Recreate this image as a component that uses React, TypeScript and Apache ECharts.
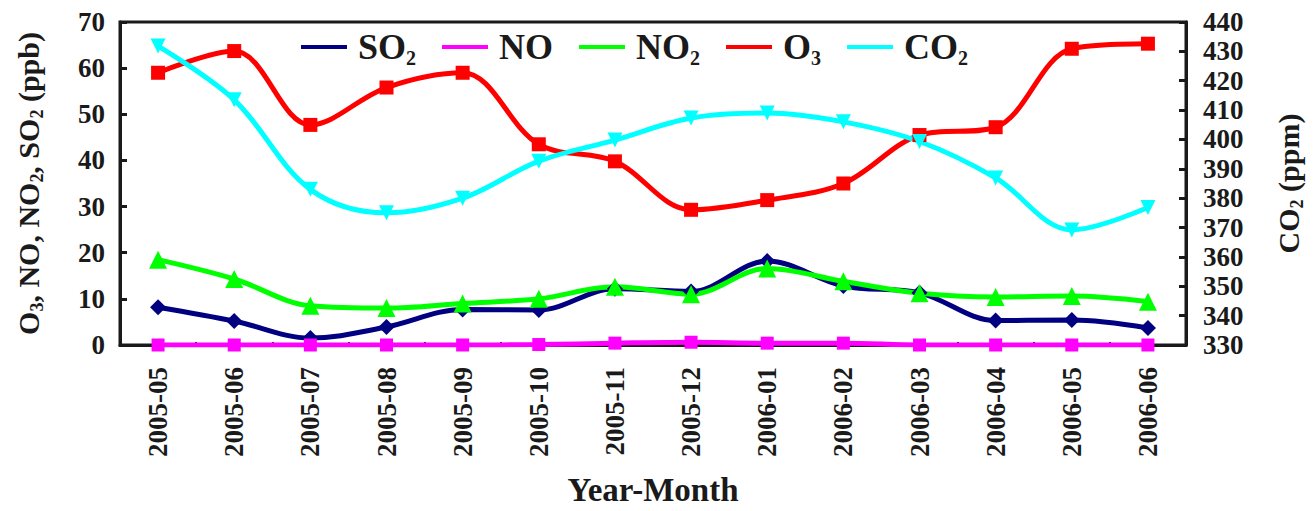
import React, { useEffect, useRef } from "react";
import * as echarts from "echarts";

const months = [
  "2005-05", "2005-06", "2005-07", "2005-08", "2005-09", "2005-10", "2005-11",
  "2005-12", "2006-01", "2006-02", "2006-03", "2006-04", "2006-05", "2006-06",
];
const so2 = [8.2, 5.2, 1.5, 3.9, 7.7, 7.6, 12.2, 11.6, 18.2, 12.8, 11.3, 5.3, 5.4, 3.7];
const no = [0, 0, 0, 0, 0, 0.1, 0.4, 0.6, 0.4, 0.4, 0, 0, 0, 0];
const no2 = [18.5, 14.3, 8.5, 8.0, 9.0, 10.0, 12.6, 11.0, 16.6, 13.8, 11.2, 10.4, 10.6, 9.4];
const o3 = [59, 63.7, 47.7, 55.8, 59, 43.5, 39.8, 29.3, 31.4, 35, 45.5, 47.2, 64.2, 65.3];
const co2 = [431.8, 413.5, 383, 375, 380, 392.6, 399.8, 407.3, 409, 406, 399.3, 386.9, 369.2, 376.8];

const leftTicks = { min: 0, max: 70, interval: 10 };
const rightTicks = { min: 330, max: 440, interval: 10 };

const FONT = '"Liberation Serif", "Times New Roman", serif';
const INK = "#1a1a1a";

const richFor = (big: number, small: number, lh: number) => ({
  b: { fontFamily: FONT, fontWeight: "bold", fontSize: big, lineHeight: lh, color: INK },
  s: {
    fontFamily: FONT,
    fontWeight: "bold",
    fontSize: small,
    lineHeight: small,
    verticalAlign: "bottom",
    color: INK,
  },
});

const legendLabels: Record<string, string> = {
  SO2: "{b|SO}{s|2}",
  NO: "{b|NO}",
  NO2: "{b|NO}{s|2}",
  O3: "{b|O}{s|3}",
  CO2: "{b|CO}{s|2}",
};

export default function App() {
  const ref = useRef<HTMLDivElement>(null);
  useEffect(() => {
    if (!ref.current) return;
    const chart = echarts.init(ref.current, null, { renderer: "svg" });
    const mk = (
      name: string,
      data: number[],
      color: string,
      symbol: string,
      size: number,
      yAxisIndex = 0,
      rotate = 0
    ) => ({
      name,
      type: "line",
      data,
      yAxisIndex,
      smooth: 0.35,
      symbol,
      symbolSize: size,
      symbolRotate: rotate,
      showSymbol: true,
      lineStyle: { color, width: 5 },
      itemStyle: { color },
      z: 3,
    });
    chart.setOption({
      animation: false,
      backgroundColor: "#ffffff",
      grid: {
        left: 120,
        right: 119,
        top: 22,
        bottom: 161,
        show: true,
        borderColor: INK,
        borderWidth: 3,
        backgroundColor: "transparent",
      },
      legend: {
        data: ["SO2", "NO", "NO2", "O3", "CO2"],
        left: 296,
        top: 24,
        icon: "rect",
        itemWidth: 46,
        itemHeight: 4,
        itemGap: 26,
        formatter: (n: string) => legendLabels[n] || n,
        textStyle: {
          fontFamily: FONT,
          fontWeight: "bold",
          fontSize: 36,
          color: INK,
          padding: [0, 0, 0, 6],
          rich: richFor(36, 20, 42),
        },
      },
      xAxis: {
        type: "category",
        data: months,
        boundaryGap: true,
        name: "Year-Month",
        nameLocation: "middle",
        nameGap: 128,
        nameTextStyle: { fontFamily: FONT, fontWeight: "bold", fontSize: 33, color: INK },
        axisLine: { lineStyle: { color: INK, width: 3 } },
        axisTick: { show: true, inside: true, length: 3, lineStyle: { color: INK, width: 2 }, interval: 0 },
        axisLabel: {
          rotate: 90,
          interval: 0,
          margin: 22,
          fontFamily: FONT,
          fontWeight: "bold",
          fontSize: 27,
          color: INK,
        },
        splitLine: { show: false },
      },
      yAxis: [
        {
          type: "value",
          position: "left",
          ...leftTicks,
          name: "{b|O}{s|3}{b|, NO, NO}{s|2}{b|, SO}{s|2}{b| (ppb)}",
          nameLocation: "middle",
          nameGap: 74,
          nameTextStyle: {
            fontFamily: FONT,
            fontWeight: "bold",
            fontSize: 30,
            color: INK,
            rich: richFor(30, 18, 36),
          },
          axisLine: { show: true, lineStyle: { color: INK, width: 3 } },
          axisTick: { show: true, inside: true, length: 7, lineStyle: { color: INK, width: 3 } },
          axisLabel: { margin: 15, fontFamily: FONT, fontWeight: "bold", fontSize: 27, color: INK },
          splitLine: { show: false },
        },
        {
          type: "value",
          position: "right",
          ...rightTicks,
          name: "{b|CO}{s|2}{b| (ppm)}",
          nameLocation: "middle",
          nameGap: 84,
          nameRotate: 90,
          nameTextStyle: {
            fontFamily: FONT,
            fontWeight: "bold",
            fontSize: 30,
            color: INK,
            rich: richFor(30, 18, 36),
          },
          axisLine: { show: true, lineStyle: { color: INK, width: 3 } },
          axisTick: { show: true, inside: true, length: 7, lineStyle: { color: INK, width: 3 } },
          axisLabel: { margin: 17, fontFamily: FONT, fontWeight: "bold", fontSize: 27, color: INK },
          splitLine: { show: false },
        },
      ],
      series: [
        mk("SO2", so2, "#000080", "diamond", 16),
        mk("NO", no, "#ff00ff", "rect", 13),
        mk("NO2", no2, "#00ff00", "triangle", 18),
        mk("O3", o3, "#ff0000", "rect", 14),
        mk("CO2", co2, "#00ffff", "triangle", 15, 1, 180),
      ],
    });
    return () => chart.dispose();
  }, []);
  return (
    <div
      ref={ref}
      style={{ position: "fixed", left: 0, top: 0, width: 1314, height: 511, background: "#fff" }}
    />
  );
}
